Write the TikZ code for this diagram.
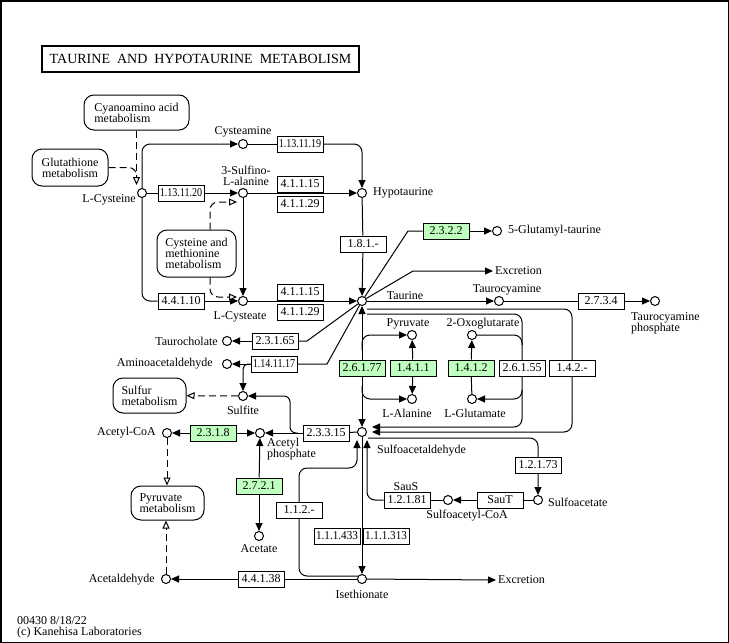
\documentclass[tikz,border=0pt]{standalone}
\usepackage{fontspec}
\usepackage{graphicx}
\setmainfont{Liberation Serif}
\usetikzlibrary{arrows.meta,backgrounds}
\definecolor{kgreen}{HTML}{BFFFBF}
\newcommand{\cmp}[1]{\scalebox{0.84}[1]{#1}}
\begin{document}
\begin{tikzpicture}[x=1pt,y=-1pt,
  every node/.style={font=\fontsize{12}{11}\selectfont, inner sep=0pt},
  cpd/.style={circle, draw, fill=white, minimum size=9pt, line width=1pt},
  enz/.style={draw, fill=white, minimum width=46pt, minimum height=16pt, line width=1pt},
  genz/.style={enz, fill=kgreen},
  mapbox/.style={draw, fill=white, rounded corners=10pt, line width=1pt, align=left},
  line/.style={line width=1pt},
  arr/.style={line width=1pt, -{Triangle[length=8pt,width=7pt]}},
  rarr/.style={line width=1pt, {Triangle[length=8pt,width=7pt]}-},
  dsh/.style={line width=1pt, dash pattern=on 7pt off 4pt},
  oarr/.style={dsh, -{Triangle[open,length=8pt,width=7pt,fill=white]}},
]
\useasboundingbox (0,0) rectangle (729,643);
\draw[line width=1.5pt] (0.75,0.75) rectangle (728.25,642.25);

% title
\node[draw, line width=2pt, minimum width=317pt, minimum height=26pt, font=\fontsize{14}{14}\selectfont] (title) at (200.5,58.5) {TAURINE\ \ AND\ \ HYPOTAURINE\ \ METABOLISM};

% map boxes
\node[mapbox, minimum width=105pt, minimum height=35pt] (cyano) at (136.5,112.5) {Cyanoamino acid\\metabolism};
\node[mapbox, minimum width=76pt, minimum height=37pt, align=center] (gsh) at (70,167.5) {Glutathione\\metabolism};
\node[mapbox, minimum width=79pt, minimum height=47pt] (cysmet) at (196.5,253.5) {Cysteine and\\methionine\\metabolism};
\node[mapbox, minimum width=73pt, minimum height=35pt] (sulfur) at (149.5,395.5) {Sulfur\\metabolism};
\node[mapbox, minimum width=73pt, minimum height=34pt] (pyrmet) at (167.5,503) {Pyruvate\\metabolism};

% compounds
\node[cpd] (cys) at (142,193) {};
\node[cpd] (cya) at (243,144) {};
\node[cpd] (sfa) at (243,193) {};
\node[cpd] (hyp) at (362,193) {};
\node[cpd] (cyt) at (243,301) {};
\node[cpd] (tau) at (362,301) {};
\node[cpd] (glut) at (497,231) {};
\node[cpd] (tcy) at (499,301) {};
\node[cpd] (tcp) at (655,301) {};
\node[cpd] (tch) at (227,341) {};
\node[cpd] (ama) at (227,364) {};
\node[cpd] (sulf) at (243,396) {};
\node[cpd] (pyr) at (412,335) {};
\node[cpd] (oxo) at (472,335) {};
\node[cpd] (ala) at (412,399) {};
\node[cpd] (glu) at (472,399) {};
\node[cpd] (sac) at (362,432) {};
\node[cpd] (acp) at (260,433) {};
\node[cpd] (acoa) at (167,433) {};
\node[cpd] (ace) at (259,536) {};
\node[cpd] (sacoa) at (448,500) {};
\node[cpd] (sa) at (538,500) {};
\node[cpd] (ise) at (362,579) {};
\node[cpd] (acal) at (166,579) {};

% compound labels
\node[anchor=east] at (136,200) {L-Cysteine};
\node at (243,132) {Cysteamine};
\node[align=center] at (246,175.5) {3-Sulfino-\\L-alanine};
\node[anchor=west] at (373,193) {Hypotaurine};
\node at (240,317) {L-Cysteate};
\node at (405,296) {Taurine};
\node[anchor=west] at (508,231) {5-Glutamyl-taurine};
\node[anchor=west] (exc1) at (495,271) {Excretion};
\node at (507,290) {Taurocyamine};
\node[anchor=west, align=left] at (631,323) {Taurocyamine\\phosphate};
\node[anchor=east] at (218,341) {Taurocholate};
\node[anchor=east] at (213,364) {Aminoacetaldehyde};
\node at (243,410) {Sulfite};
\node at (408,324) {Pyruvate};
\node at (483,324) {2-Oxoglutarate};
\node at (407,413) {L-Alanine};
\node at (475,413) {L-Glutamate};
\node[anchor=west] at (377,451) {Sulfoacetaldehyde};
\node[anchor=west, align=left] at (267,449) {Acetyl\\phosphate};
\node[anchor=east] at (156,433) {Acetyl-CoA};
\node at (259,549) {Acetate};
\node at (406,487) {SauS};
\node at (467,516) {Sulfoacetyl-CoA};
\node[anchor=west] at (548,502) {Sulfoacetate};
\node at (362,594) {Isethionate};
\node[anchor=west] (exc2) at (498,580) {Excretion};
\node[anchor=east] at (155,580) {Acetaldehyde};
\node[anchor=west, align=left] at (17,627.5) {00430 8/18/22\\(c) Kanehisa Laboratories};

% enzymes
\node[enz] (e1) at (300,144) {\cmp{1.13.11.19}};
\node[enz] (e2) at (181,193) {\cmp{1.13.11.20}};
\node[enz] (e3) at (300,184) {4.1.1.15};
\node[enz] (e4) at (300,204) {4.1.1.29};
\node[enz] (e5) at (181,301) {4.4.1.10};
\node[enz] (e6) at (300,292) {4.1.1.15};
\node[enz] (e7) at (300,312) {4.1.1.29};
\node[enz] (e8) at (363,244) {1.8.1.-};
\node[genz] (e9) at (446,231) {2.3.2.2};
\node[enz] (e10) at (601,301) {2.7.3.4};
\node[enz] (e11) at (275,341) {2.3.1.65};
\node[enz] (e12) at (274,364) {\cmp{1.14.11.17}};
\node[genz] (e13) at (362,368) {2.6.1.77};
\node[genz] (e14) at (413,368) {1.4.1.1};
\node[genz] (e15) at (471,368) {1.4.1.2};
\node[enz] (e16) at (522,368) {2.6.1.55};
\node[enz] (e17) at (572,368) {1.4.2.-};
\node[enz] (e18) at (326,433) {2.3.3.15};
\node[genz] (e19) at (213,433) {2.3.1.8};
\node[genz] (e20) at (259,486) {2.7.2.1};
\node[enz] (e21) at (538,465) {1.2.1.73};
\node[enz] (e22) at (407,500) {1.2.1.81};
\node[enz] (e23) at (500,500) {SauT};
\node[enz] (e24) at (299,510) {1.1.2.-};
\node[enz] (e25) at (337,536) {\scalebox{0.93}[1]{1.1.1.433}};
\node[enz] (e26) at (386,536) {\scalebox{0.93}[1]{1.1.1.313}};
\node[enz] (e27) at (261,579) {4.4.1.38};

% free ends
\coordinate (k1) at (408,231);
\coordinate (k2) at (413,271);
\coordinate (k3) at (307,341);
\coordinate (k4) at (327,364);
\coordinate (k5) at (362,350);
\coordinate (k6) at (362,386);
\coordinate (k7) at (367,314);
\coordinate (k8) at (372,427);
\coordinate (k9) at (367,309);
\coordinate (k10) at (372,432);
\coordinate (k11) at (368,438);
\coordinate (k12) at (367,440);
\coordinate (k13) at (358,576);
\coordinate (k14) at (357,440);
\coordinate (k15) at (298,433);
\coordinate (k16) at (136.5,185);
\coordinate (k16b) at (136.5,178);
\coordinate (k17) at (237,202);
\coordinate (k18) at (237,297);
\coordinate (k19) at (522,345);
\coordinate (k20) at (522,390);

\begin{pgfonlayer}{background}
\draw[arr, rounded corners=8pt] (cys.north) |- (cya);
\draw[line] (cya) -- (e1);
\draw[arr, rounded corners=8pt] (e1) -| (hyp);
\draw[line] (cys) -- (e2);
\draw[arr] (e2) -- (sfa);
\draw[arr] (sfa) -- (hyp);
\draw[line, rounded corners=8pt] (cys.south) |- (e5);
\draw[arr] (e5) -- (cyt);
\draw[arr] (sfa) -- (cyt);
\draw[arr] (cyt) -- (tau);
\draw[line] (hyp) -- (e8);
\draw[arr] (e8) -- (tau);
\draw[line] (tau) -- (k1) -- (e9);
\draw[arr] (e9) -- (glut);
\draw[arr] (tau) -- (k2) -- ([xshift=-2pt]exc1.west);
\draw[arr] (tau) -- (tcy);
\draw[line] (tcy) -- (e10);
\draw[arr] (e10) -- (tcp);
\draw[line] (tau) -- (k3) -- (e11);
\draw[arr] (e11) -- (tch);
\draw[line] (tau) -- (k4) -- (e12);
\draw[arr] (e12) -- (ama);
\draw[arr, rounded corners=5pt] (e12.west) -| (sulf);
% main vertical
\draw[rarr] (tau) -- (e13);
\draw[arr] (e13) -- (sac);
\draw[arr, rounded corners=8pt] (k5) |- (pyr);
\draw[arr, rounded corners=8pt] (k6) |- (ala);
\draw[rarr] (pyr) -- (e14);
\draw[arr] (e14) -- (ala);
\draw[line] (glu) -- (e15);
\draw[arr] (e15) -- (oxo);
% 2.6.1.55
\draw[arr, rounded corners=8pt] (k7) -| (e16.center) |- (k8);
\draw[line, rounded corners=8pt] (oxo) -| (k19);
\draw[arr, rounded corners=8pt] (k20) |- (glu);
% 1.4.2.-
\draw[arr, rounded corners=8pt] (k9) -| (e17.center) |- (k10);
% sulfoacetate
\draw[arr, rounded corners=8pt] (k11) -| (sa);
\draw[line] (sa) -- (e23);
\draw[arr] (e23) -- (sacoa);
\draw[line] (sacoa) -- (e22);
\draw[arr, rounded corners=8pt] (e22) -| (k12);
% 1.1.2.-
\draw[arr, rounded corners=8pt] (k13) -| (e24.center) |- (357,468) -- (k14);
\draw[arr] (sac) -- (ise);
\draw[line] (ise) -- (e27);
\draw[arr] (e27) -- (acal);
\draw[arr] (ise) -- ([xshift=-2pt]exc2.west);
% acetyl
\draw[line] (sac) -- (e18);
\draw[arr] (e18) -- (acp);
\draw[arr, rounded corners=6pt] (k15) -| (290,396) -- (sulf);
\draw[rarr] (acoa) -- (e19);
\draw[arr] (e19) -- (acp);
\draw[rarr] (acp) -- (e20);
\draw[arr] (e20) -- (ace);
% dashed
\draw[oarr] (sulf) -- (sulfur);
\draw[oarr] (acoa) -- (acoa |- pyrmet.north);
\draw[oarr] (acal) -- (acal |- pyrmet.south);
\draw[oarr] (cyano) -- (k16);
\draw[dsh, rounded corners=8pt] (gsh) -| (k16b);
\draw[oarr, rounded corners=8pt] (cysmet.north -| 210,0) |- (k17);
\draw[oarr, rounded corners=8pt] (cysmet.south -| 210,0) |- (k18);
\end{pgfonlayer}
\end{tikzpicture}
\end{document}
